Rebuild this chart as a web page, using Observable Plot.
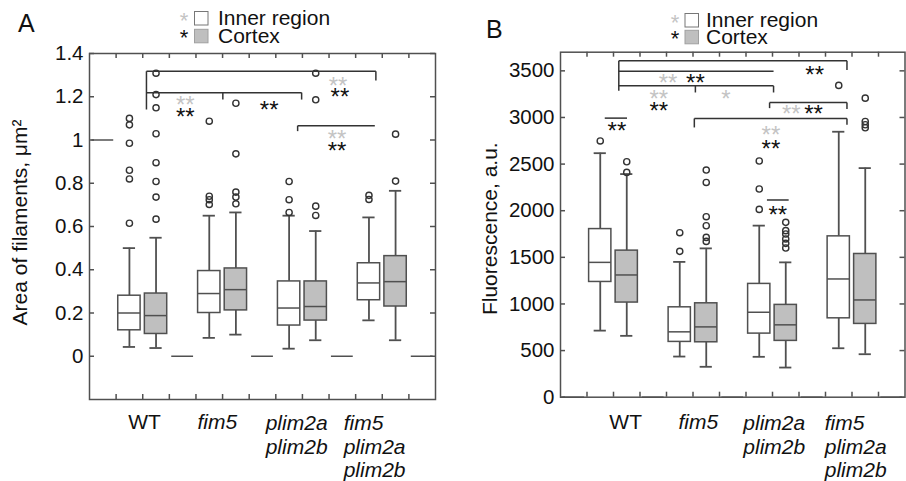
<!DOCTYPE html>
<html><head><meta charset="utf-8">
<script src="https://cdn.jsdelivr.net/npm/d3@7"></script>
<script src="https://cdn.jsdelivr.net/npm/@observablehq/plot@0.6"></script>
<style>
body{margin:0;background:#fff;}
#fig{position:relative;width:906px;height:481px;overflow:hidden;font-family:"Liberation Sans",Arial,sans-serif;}
#fig > svg{position:absolute;top:0;}
</style></head><body><div id="fig"></div>
<script>
// ---------- data ----------
const groups = ["WT", "fim5", "plim2a\nplim2b", "fim5\nplim2a\nplim2b"];
const regions = ["Inner region", "Cortex"];

// Panel A — area of filaments (µm²): [lower whisker, Q1, median, Q3, upper whisker]
const areaInner  = [[0.043,0.12,0.20,0.28,0.50],[0.085,0.20,0.29,0.394,0.65],[0.035,0.142,0.223,0.346,0.65],[0.166,0.259,0.339,0.43,0.642]];
const areaCortex = [[0.038,0.103,0.188,0.29,0.548],[0.10,0.212,0.308,0.406,0.665],[0.074,0.165,0.23,0.346,0.579],[0.074,0.23,0.345,0.463,0.765]];
const areaInnerOut  = [[1.10,1.07,0.985,0.86,0.82,0.615],[1.087,0.74,0.724,0.702],[0.808,0.724,0.665],[0.744,0.725]];
const areaCortexOut = [[1.309,1.21,1.149,1.029,0.895,0.808,0.736,0.634],[1.17,0.936,0.759,0.736,0.705],[1.309,1.186,0.694,0.651],[1.027,0.81]];
const areaEmpty = [1, 0, 0, 0, 0];            // empty spacer groups (flat lines)
const areaTicks = [0, 0.2, 0.4, 0.6, 0.8, 1, 1.2, 1.4];
const areaTickLabels = ["0", "0.2", "0.4", "0.6", "0.8", "1", "1.2", "1.4"];
const areaBrackets = [
  {x1:2.14, x2:10.76, y:1.318, drops:[[2.14,1.141],[10.76,1.275]]},
  {x1:2.14, x2:7.97,  y:1.219, drops:[[5.01,1.187],[7.97,1.187]]},
  {x1:7.82, x2:10.72, y:1.066, drops:[[7.82,1.041]]}
];
const areaStars = [
  {x:9.34, y:1.27,  t:"**", s:0}, {x:9.41, y:1.219, t:"**", s:1},
  {x:3.6,  y:1.182, t:"**", s:0}, {x:3.6,  y:1.127, t:"**", s:1},
  {x:6.75, y:1.159, t:"**", s:1},
  {x:9.3,  y:1.025, t:"**", s:0}, {x:9.3,  y:0.97,  t:"**", s:1}
];

// Panel B — fluorescence (a.u.)
const fluoInner  = [[714,1236,1446,1803,2617],[436,593,701,964,1451],[433,682,911,1215,1840],[525,846,1268,1725,2847]];
const fluoCortex = [[658,1015,1311,1572,2393],[326,589,754,1007,1596],[318,604,776,990,1446],[461,786,1043,1536,2457]];
const fluoInnerOut  = [[2748],[1764,1564],[2533,2233,2014],[3344]];
const fluoCortexOut = [[2525,2411],[2436,2303,1936,1839,1714,1671],[1875,1786,1750,1697,1650,1600],[3207,2957,2922,2890]];
const fluoEmpty = [0, 0, 0, 0, 0];
const fluoTicks = [0, 500, 1000, 1500, 2000, 2500, 3000, 3500];
const fluoTickLabels = ["0", "500", "1000", "1500", "2000", "2500", "3000", "3500"];
const fluoBrackets = [
  {x1:2.2,  x2:10.81, y:3607, drops:[[2.2,3286],[10.81,3508]]},
  {x1:2.2,  x2:8.04,  y:3497, drops:[]},
  {x1:2.2,  x2:8.04,  y:3339, drops:[[5.09,3268],[8.04,3268]]},
  {x1:7.89, x2:10.81, y:3160, drops:[[7.89,3100],[10.81,3090]]},
  {x1:5.05, x2:10.81, y:2989, drops:[[5.05,2893],[10.81,2922]]},
  {x1:1.67, x2:2.51,  y:2993, drops:[]},
  {x1:7.79, x2:8.61,  y:2115, drops:[]}
];
const fluoStars = [
  {x:9.59, y:3511, t:"**", s:1},
  {x:4.06, y:3422, t:"**", s:0}, {x:5.09, y:3422, t:"**", s:1},
  {x:3.71, y:3246, t:"**", s:0}, {x:3.71, y:3122, t:"**", s:1},
  {x:6.24, y:3250, t:"*",  s:0},
  {x:8.71, y:3090, t:"**", s:0}, {x:9.55, y:3090, t:"**", s:1},
  {x:7.94, y:2857, t:"**", s:0}, {x:7.94, y:2715, t:"**", s:1},
  {x:2.13, y:2900, t:"**", s:1},
  {x:8.2,  y:2008, t:"**", s:1}
];

// ---------- styling ----------
const FONT = '"Liberation Sans", Arial, sans-serif';
const LINE = "#505050";
const GRAYFILL = "#bfbfbf";
const LIGHTSTAR = "#c4c4c4";
const H = 481;

function panel(o) {
  const boxes = [];
  groups.forEach((g, i) => {
    [o.inner[i], o.cortex[i]].forEach((s, r) =>
      boxes.push({x: 3*i + 1.5 + r, r, lo: s[0], q1: s[1], med: s[2], q3: s[3], hi: s[4]}));
  });
  const outs = [];
  groups.forEach((g, i) => {
    o.innerOut[i].forEach(v => outs.push({x: 3*i + 1.5, v}));
    o.cortexOut[i].forEach(v => outs.push({x: 3*i + 2.5, v}));
  });
  const spacers = o.empty.map((v, i) => ({x: 3*i + 0.5, v}));
  const segs = o.brackets.flatMap(b => [
    {x1: b.x1, x2: b.x2, y1: b.y, y2: b.y},
    ...b.drops.map(([x, y]) => ({x1: x, x2: x, y1: b.y, y2: y}))
  ]);
  const fw = o.width - o.ml - o.mr, fh = H - o.mt - o.mb;
  const xt = d3.range(1, 13);
  const labels = groups.map((g, i) => ({g, i}));
  return Plot.plot({
    width: o.width, height: H,
    marginLeft: o.ml, marginRight: o.mr, marginTop: o.mt, marginBottom: o.mb,
    x: {domain: [0, 13], axis: null},
    y: {domain: o.yDomain, axis: null},
    style: {fontFamily: FONT, fontSize: "21px", color: "#111", background: "transparent", overflow: "visible"},
    marks: [
      // whiskers
      Plot.ruleX(boxes, {x: "x", y1: "q3", y2: "hi", stroke: LINE, strokeWidth: 1.8}),
      Plot.ruleX(boxes, {x: "x", y1: "lo", y2: "q1", stroke: LINE, strokeWidth: 1.8}),
      Plot.ruleY(boxes, {y: "hi", x1: d => d.x - 0.23, x2: d => d.x + 0.23, stroke: LINE, strokeWidth: 1.8}),
      Plot.ruleY(boxes, {y: "lo", x1: d => d.x - 0.23, x2: d => d.x + 0.23, stroke: LINE, strokeWidth: 1.8}),
      // boxes
      Plot.rect(boxes, {x1: d => d.x - 0.42, x2: d => d.x + 0.42, y1: "q1", y2: "q3",
        fill: d => d.r ? GRAYFILL : "#fff", stroke: LINE, strokeWidth: 1.5}),
      Plot.ruleY(boxes, {y: "med", x1: d => d.x - 0.42, x2: d => d.x + 0.42, stroke: LINE, strokeWidth: 1.5}),
      // empty-group spacers
      Plot.ruleY(spacers, {y: "v", x1: d => d.x - 0.41, x2: d => d.x + 0.41, stroke: LINE, strokeWidth: 1.5}),
      // outliers
      Plot.dot(outs, {x: "x", y: "v", r: 3.1, stroke: "#333", strokeWidth: 1.4, fill: "none"}),
      // significance brackets and stars
      Plot.link(segs, {x1: "x1", y1: "y1", x2: "x2", y2: "y2", stroke: "#333", strokeWidth: 1.5}),
      Plot.text(o.stars, {x: "x", y: "y", text: "t", fill: d => d.s ? "#111" : LIGHTSTAR,
        fontSize: 24, dy: 5, fontWeight: "normal"}),
      // frame and inward ticks
      Plot.frame({stroke: LINE, strokeWidth: 1.5}),
      Plot.tickX(xt, {x: d => d, insetTop: fh - 5, stroke: LINE, strokeWidth: 1.5}),
      Plot.tickX(xt, {x: d => d, insetBottom: fh - 5, stroke: LINE, strokeWidth: 1.5}),
      Plot.tickY(o.ticks, {y: d => d, insetRight: fw - 5, stroke: LINE, strokeWidth: 1.5}),
      Plot.tickY(o.ticks, {y: d => d, insetLeft: fw - 5, stroke: LINE, strokeWidth: 1.5}),
      // y tick labels
      Plot.text(o.ticks, {y: d => d, text: (d, i) => o.tickLabels[i], frameAnchor: "left",
        textAnchor: "end", dx: -6, fontSize: 20.5, fill: "#111"}),
      // x category labels
      Plot.text(labels.filter(d => d.i === 0), {x: d => o.labelX[d.i], text: "g", frameAnchor: "bottom",
        lineAnchor: "top", dy: o.xdy, fontSize: 21, fill: "#111"}),
      Plot.text(labels.filter(d => d.i === 1), {x: d => o.labelX[d.i], text: "g", frameAnchor: "bottom",
        lineAnchor: "top", dy: o.xdy, fontSize: 21, fontStyle: "italic", fill: "#111"}),
      Plot.text(labels.filter(d => d.i > 1), {x: d => o.labelX[d.i], text: "g", frameAnchor: "bottom",
        lineAnchor: "top", textAnchor: "start", lineHeight: 1.11, dy: o.xdy, fontSize: 21, fontStyle: "italic", fill: "#111"}),
      // y axis title
      Plot.text([o.yLabel], {frameAnchor: "left", textAnchor: "middle", lineAnchor: "middle", rotate: -90,
        dx: o.ylDx, dy: o.ylDy, fontSize: 21, fill: "#111"})
    ]
  });
}

const fig = document.getElementById("fig");

const svgA = panel({
  inner: areaInner, cortex: areaCortex, innerOut: areaInnerOut, cortexOut: areaCortexOut,
  empty: areaEmpty, yDomain: [-0.2, 1.4], ticks: areaTicks, tickLabels: areaTickLabels,
  brackets: areaBrackets, stars: areaStars,
  width: 453, ml: 89, mr: 18, mt: 53, mb: 82,
  labelX: [2.07, 4.8, 6.62, 9.55], xdy: 14.4,
  yLabel: "Area of filaments, μm²", ylDx: -69, ylDy: -4
});
svgA.style.left = "0px";
fig.appendChild(svgA);

const svgB = panel({
  inner: fluoInner, cortex: fluoCortex, innerOut: fluoInnerOut, cortexOut: fluoCortexOut,
  empty: fluoEmpty, yDomain: [0, 3700], ticks: fluoTicks, tickLabels: fluoTickLabels,
  brackets: fluoBrackets, stars: fluoStars,
  width: 453, ml: 107, mr: 1.5, mt: 51.7, mb: 84.3,
  labelX: [2.46, 5.2, 6.9, 9.97], xdy: 16.7,
  yLabel: "Fluorescence, a.u.", ylDx: -70, ylDy: 4
});
svgB.style.left = "453px";
fig.appendChild(svgB);

// ---------- panel letters and legends (overlay) ----------
const ov = d3.select(fig).append("svg").attr("width", 906).attr("height", H)
  .style("left", "0px").style("font-family", FONT);
function legend(letter, lx, lb, sx, sqx, tx, y1, y2) {
  ov.append("text").attr("x", lx).attr("y", lb).attr("font-size", 25).attr("fill", "#111").text(letter);
  const rows = [{y: y1, fill: "#fff", star: LIGHTSTAR}, {y: y2, fill: GRAYFILL, star: "#111"}];
  rows.forEach((r, i) => {
    ov.append("text").attr("x", sx).attr("y", r.y + 16).attr("text-anchor", "middle")
      .attr("font-size", 22).attr("fill", r.star).text("*");
    ov.append("rect").attr("x", sqx).attr("y", r.y).attr("width", 13.5).attr("height", 13.5)
      .attr("fill", r.fill).attr("stroke", i ? "#a0a0a0" : "#777").attr("stroke-width", 1);
    ov.append("text").attr("x", tx).attr("y", r.y + 13.5).attr("font-size", 21).attr("fill", "#111").text(regions[i]);
  });
}
legend("A", 18, 32, 184, 194.5, 218, 11.5, 29.3);
legend("B", 486, 38, 675, 685, 706, 13.5, 30.3);
</script></body></html>
